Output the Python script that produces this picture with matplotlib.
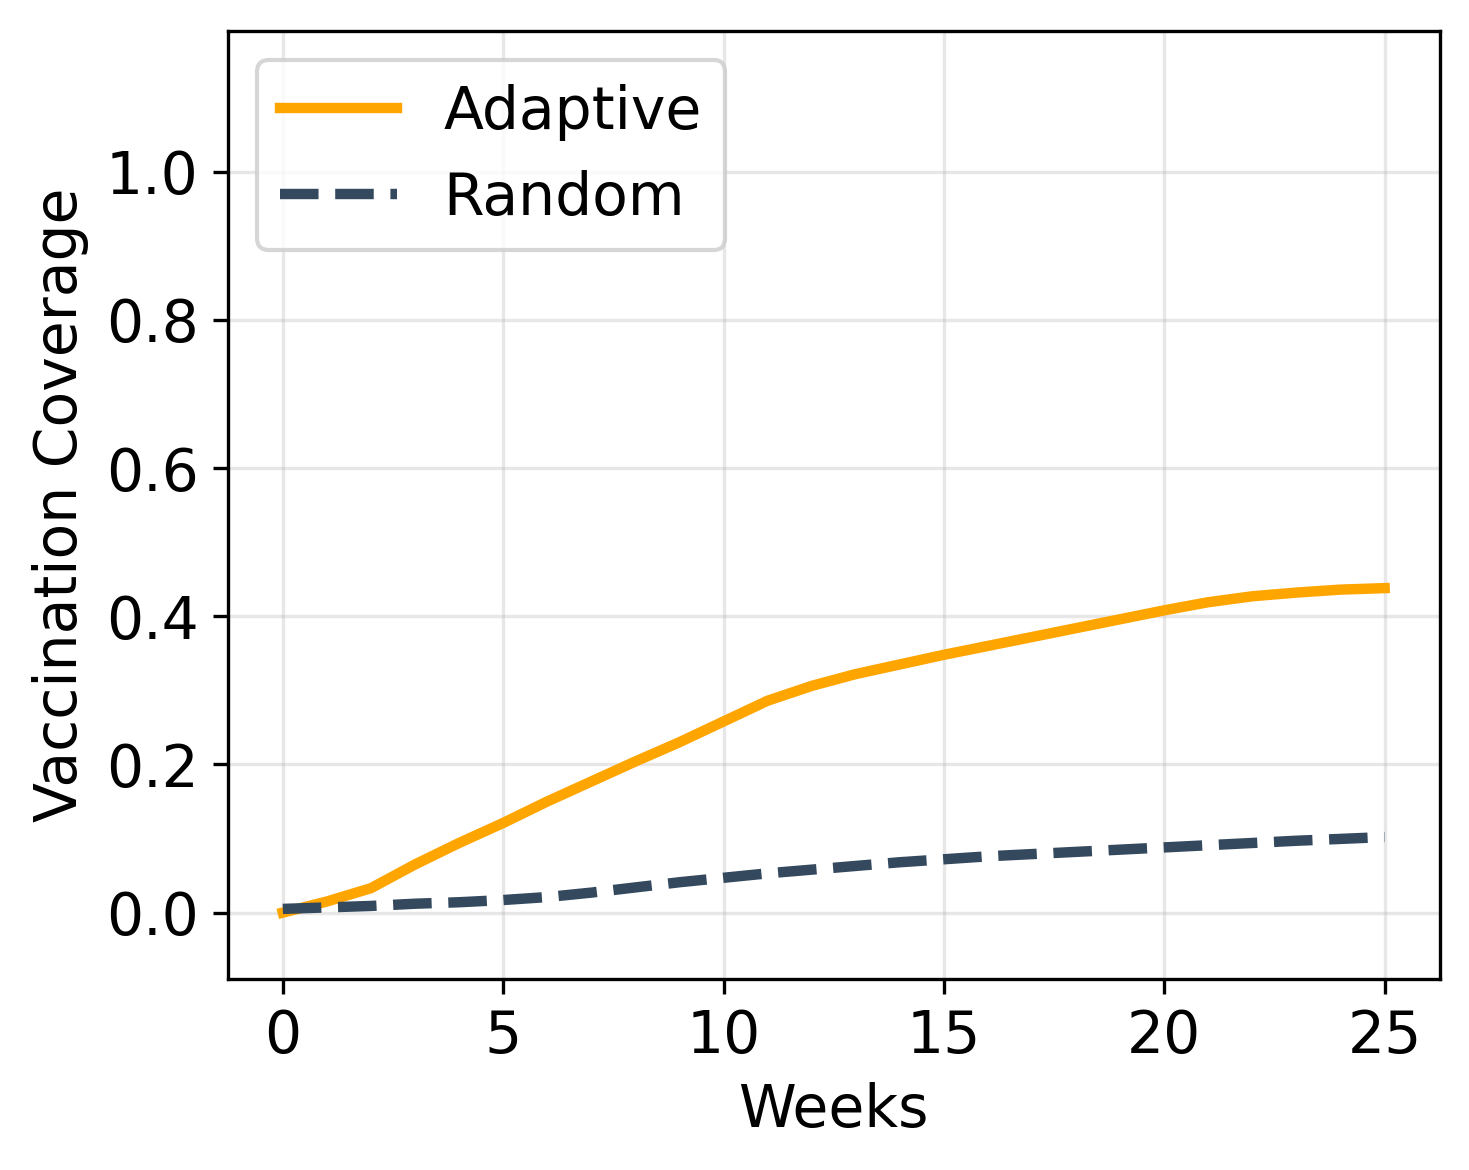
import matplotlib
matplotlib.use("Agg")
import matplotlib.pyplot as plt

weeks = list(range(26))
adaptive = [0.000, 0.015, 0.033, 0.065, 0.094, 0.121, 0.150, 0.177, 0.204, 0.230,
            0.258, 0.286, 0.306, 0.322, 0.335, 0.348, 0.360, 0.372, 0.384, 0.396,
            0.408, 0.419, 0.427, 0.432, 0.436, 0.438]
random_ = [0.005, 0.007, 0.009, 0.012, 0.014, 0.017, 0.021, 0.027, 0.034, 0.041,
           0.047, 0.053, 0.058, 0.063, 0.068, 0.072, 0.076, 0.079, 0.082, 0.085,
           0.088, 0.091, 0.094, 0.097, 0.0995, 0.102]

fig = plt.figure(figsize=(4.897, 3.9), dpi=300)
ax = fig.add_axes([0.155, 0.163, 0.825, 0.8105])
ax.plot(weeks, adaptive, color='#FFA500', lw=2.5, label='Adaptive')
ax.plot(weeks, random_, color='#34495E', lw=2.5, ls='--', label='Random')
ax.set_xlim(-1.25, 26.25)
ax.set_ylim(-0.09, 1.19)
ax.set_yticks([0.0, 0.2, 0.4, 0.6, 0.8, 1.0])
ax.set_xticks([0, 5, 10, 15, 20, 25])
ax.grid(True, alpha=0.3)
ax.tick_params(labelsize=14)
ax.set_xlabel('Weeks', fontsize=14)
ax.set_ylabel('Vaccination Coverage', fontsize=14)
ax.legend(loc='upper left', fontsize=14)
fig.savefig('out.png', dpi=300)
